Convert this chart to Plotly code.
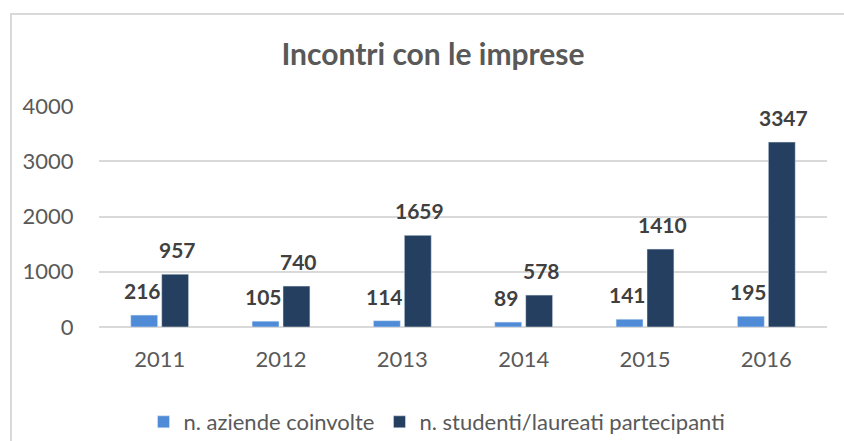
import plotly.graph_objects as go

years = ["2011", "2012", "2013", "2014", "2015", "2016"]
aziende = [216, 105, 114, 89, 141, 195]
studenti = [957, 740, 1659, 578, 1410, 3347]
series_names = ["n. aziende coinvolte", "n. studenti/laureati partecipanti"]
y_ticks = [0, 1000, 2000, 3000, 4000]

LIGHT = "#4F8BD6"
DARK = "#243F60"
FONT = "Lato"

W, H = 844, 441
L, R, T, B = 99, 17, 106, 114
pw, ph = W - L - R, H - T - B

fig = go.Figure()
fig.add_trace(go.Bar(x=years, y=aziende, name=series_names[0], marker_color=LIGHT))
fig.add_trace(go.Bar(x=years, y=studenti, name=series_names[1], marker_color=DARK))

annotations = []
for i, (a, s) in enumerate(zip(aziende, studenti)):
    for val, shift in ((a, -17.5), (s, 17.5)):
        annotations.append(dict(
            x=i, y=val, xref="x", yref="y", text=f"<b>{val}</b>", showarrow=False,
            xshift=shift, yanchor="bottom", yshift=10,
            font=dict(family=FONT, size=21, color="#404040"),
        ))


def px_to_paper_x(px):
    return (px - L) / pw


def px_to_paper_y(py):
    return (H - B - py) / ph


fig.update_layout(
    width=W, height=H,
    margin=dict(l=L, r=R, t=T, b=B, autoexpand=False),
    paper_bgcolor="white", plot_bgcolor="white",
    barmode="group", bargap=0.49, bargroupgap=0.13,
    title=dict(text="<b>Incontri con le imprese</b>", xref="container", yref="container",
               x=433 / W, y=1 - 54 / H, xanchor="center", yanchor="middle",
               font=dict(family=FONT, size=30, color="#595959")),
    xaxis=dict(type="category", range=[-0.5, len(years) - 0.5],
               showgrid=False, showline=False, zeroline=False,
               ticks="outside", ticklen=13, tickcolor="white",
               tickfont=dict(family=FONT, size=22, color="#595959")),
    yaxis=dict(range=[0, 4000], tickvals=y_ticks, showgrid=True, gridcolor="#D9D9D9",
               gridwidth=1.5, zeroline=True, zerolinecolor="#D9D9D9", zerolinewidth=1.5,
               showline=False, ticks="outside", ticklen=20, tickcolor="white",
               tickfont=dict(family=FONT, size=22, color="#595959")),
    legend=dict(orientation="h",
                x=px_to_paper_x(437), xanchor="center",
                y=px_to_paper_y(422), yanchor="middle",
                font=dict(family=FONT, size=22, color="#595959")),
    annotations=annotations,
    shapes=[dict(type="rect", xref="paper", yref="paper",
                 x0=px_to_paper_x(11), x1=px_to_paper_x(870),
                 y0=px_to_paper_y(470), y1=px_to_paper_y(14),
                 line=dict(color="#D9D9D9", width=2),
                 layer="below")],
    showlegend=True,
)

fig.write_html("out.html", config={"displayModeBar": False},
               post_script="document.body.style.margin='0';document.body.style.overflow='hidden';")
